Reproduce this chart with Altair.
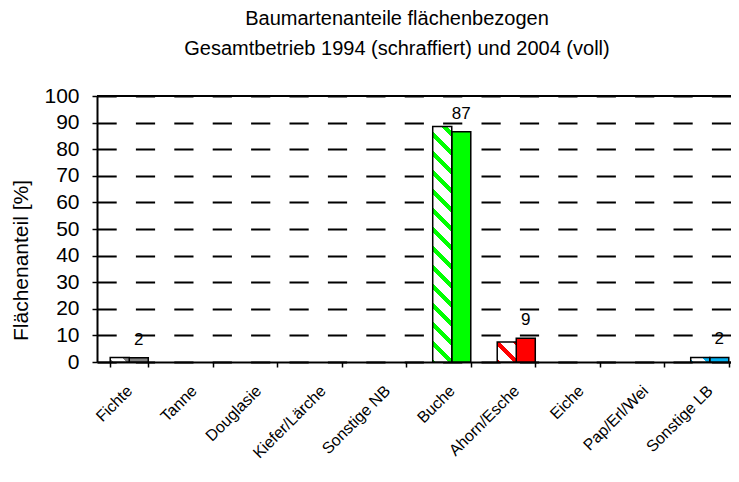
import altair as alt
import pandas as pd

categories = ["Fichte", "Tanne", "Douglasie", "Kiefer/Lärche", "Sonstige NB",
              "Buche", "Ahorn/Esche", "Eiche", "Pap/Erl/Wei", "Sonstige LB"]
values_1994 = [1.7, 0, 0, 0, 0, 88.5, 7.5, 0, 0, 1.7]
values_2004 = [1.6, 0, 0, 0, 0, 86.6, 8.9, 0, 0, 1.7]
bar_colors = ["#808080", "#808080", "#808080", "#808080", "#808080",
              "#00FF00", "#FF0000", "#808080", "#808080", "#00B0F0"]
years = ["1994", "2004"]

rows = []
for c, a, b, col in zip(categories, values_1994, values_2004, bar_colors):
    rows.append({"cat": c, "year": "1994", "value": a, "color": col, "label": str(round(a))})
    rows.append({"cat": c, "year": "2004", "value": b, "color": col, "label": str(round(b))})
df = pd.DataFrame(rows)

PLOT_H = 266
STEP = 64.5
PAD_IN = 0.41
BAR_W = STEP * (1 - PAD_IN) / 2

FONT = "Liberation Sans"

x_enc = alt.X("cat:N", scale=alt.Scale(domain=categories, range=[0, STEP * 10],
                                         paddingInner=PAD_IN, paddingOuter=PAD_IN / 2),
              title=None)
y_enc = alt.Y("value:Q", scale=alt.Scale(domain=[0, 100]), title="Flächenanteil [%]")
xo_enc = alt.XOffset("year:N", scale=alt.Scale(domain=years))

base = alt.Chart(df)


def hatch_gradient(color, W, H, period=19.0, thick=6.0):
    L = W + H
    k = L / (W * W + H * H)
    stops = []
    c = 0.0
    while c - thick / 2 < L:
        a = max(0.0, c - thick / 2)
        b = min(L, c + thick / 2)
        if b > 0:
            stops += [alt.GradientStop(offset=round(a / L, 5), color="white"),
                      alt.GradientStop(offset=round(a / L, 5), color=color),
                      alt.GradientStop(offset=round(b / L, 5), color=color),
                      alt.GradientStop(offset=round(b / L, 5), color="white")]
        c += period
    if stops[-1].offset < 1:
        stops.append(alt.GradientStop(offset=1, color="white"))
    return alt.LinearGradient(gradient="linear", stops=stops,
                              x1=0, y1=1, x2=W * k, y2=1 - H * k)


solid = base.transform_filter(
    (alt.datum.year == "2004") & (alt.datum.value > 0)
).mark_bar(stroke="black", strokeWidth=1.5).encode(
    x=x_enc, y=y_enc, xOffset=xo_enc,
    fill=alt.Fill("color:N", scale=None)
)

layers = [solid]
for c, a, col in zip(categories, values_1994, bar_colors):
    if a > 0:
        H = a * PLOT_H / 100.0
        layers.append(
            base.transform_filter(
                (alt.datum.year == "1994") & (alt.datum.cat == c)
            ).mark_bar(stroke="black", strokeWidth=1.5,
                       fill=hatch_gradient(col, BAR_W, H)).encode(
                x=x_enc, y=y_enc, xOffset=xo_enc
            )
        )

top_rule = alt.Chart(pd.DataFrame({"v": [100]})).mark_rule(
    color="black", strokeWidth=2).encode(y=alt.Y("v:Q"))

labels = base.transform_filter(
    (alt.datum.year == "2004") & (alt.datum.value > 0)
).mark_text(font=FONT, fontSize=17, color="black", baseline="alphabetic", dy=-13).encode(
    x=x_enc, y=y_enc, xOffset=xo_enc, text="label:N"
)

chart = alt.layer(*layers, top_rule, labels).properties(
    width=634, height=PLOT_H,
    title=alt.TitleParams(
        ["Baumartenanteile flächenbezogen",
         "Gesamtbetrieb 1994 (schraffiert) und 2004 (voll)"],
        font=FONT, fontSize=20, fontWeight="normal", color="black",
        lineHeight=30, anchor="middle", dx=-17, offset=26),
    autosize=alt.AutoSizeParams(type="none"),
    padding={"left": 89, "top": 88, "right": 0, "bottom": 100},
).configure_view(stroke=None).configure_axisX(
    domainColor="black", domainWidth=2, tickColor="black", tickWidth=1.5,
    tickSize=5, tickBand="extent", labelAngle=315, labelAlign="right",
    labelBaseline="middle", labelFont=FONT, labelFontSize=16, labelColor="black",
    labelPadding=21, grid=False
).configure_axisY(
    domainColor="black", domainWidth=2, tickColor="black", tickWidth=1.5,
    tickSize=5, tickCount=10, values=list(range(0, 101, 10)),
    labelFont=FONT, labelFontSize=21, labelColor="black", labelPadding=13,
    grid=True, gridColor="black", gridWidth=2, gridDash=[19.2, 19.2],
    titleFont=FONT, titleFontSize=21, titleFontWeight="normal", titleColor="black",
    titleAngle=270, titleX=-70, titleY=164, titleAlign="center", titleBaseline="alphabetic"
)

chart.save("out.html", embed_options={"renderer": "svg", "actions": False})
